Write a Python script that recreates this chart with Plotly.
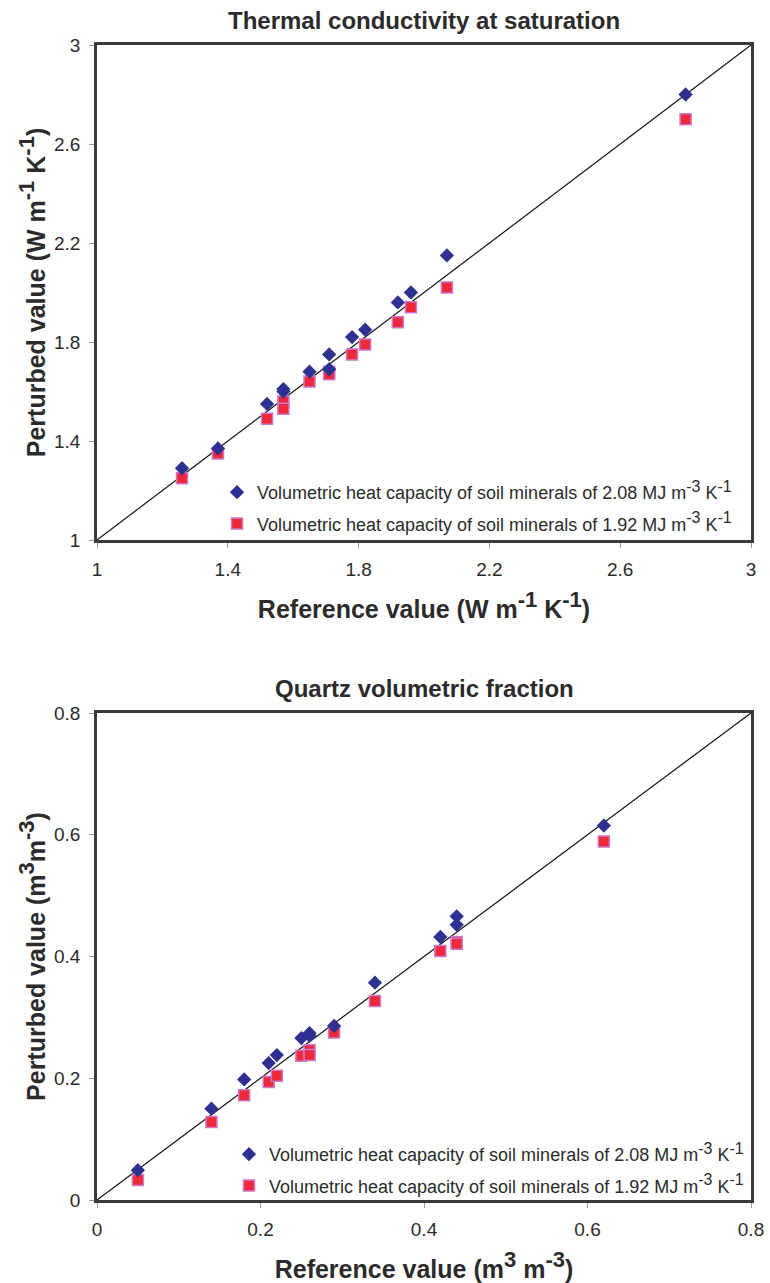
import plotly.graph_objects as go

# ---------- Data: Thermal conductivity at saturation ----------
tc_ref = [1.26, 1.37, 1.52, 1.57, 1.57, 1.65, 1.71, 1.71, 1.78, 1.82, 1.92, 1.96, 2.07, 2.80]
tc_hi = [1.29, 1.37, 1.55, 1.61, 1.60, 1.68, 1.75, 1.69, 1.82, 1.85, 1.96, 2.00, 2.15, 2.80]
tc_lo = [1.25, 1.35, 1.49, 1.56, 1.53, 1.64, 1.68, 1.67, 1.75, 1.79, 1.88, 1.94, 2.02, 2.70]
tc_line = [1, 3]

# ---------- Data: Quartz volumetric fraction ----------
q_ref = [0.05, 0.14, 0.18, 0.21, 0.22, 0.25, 0.26, 0.26, 0.29, 0.34, 0.42, 0.44, 0.44, 0.62]
q_hi = [0.049, 0.150, 0.198, 0.225, 0.238, 0.266, 0.274, 0.270, 0.286, 0.357, 0.432, 0.466, 0.452, 0.615]
q_lo = [0.033, 0.128, 0.172, 0.194, 0.204, 0.237, 0.246, 0.238, 0.275, 0.327, 0.409, 0.424, 0.421, 0.589]
q_line = [0, 0.8]

tc_ticks = [1, 1.4, 1.8, 2.2, 2.6, 3]
q_ticks = [0, 0.2, 0.4, 0.6, 0.8]


def sup(t, px):
    return f"<sup><span style='font-size:{px}px'>{t}</span></sup>"


name_hi = f"Volumetric heat capacity of soil minerals of 2.08 MJ m{sup('-3', 16)} K{sup('-1', 16)}"
name_lo = f"Volumetric heat capacity of soil minerals of 1.92 MJ m{sup('-3', 16)} K{sup('-1', 16)}"

BLUE = "#2e3192"
RED = "#ee2a3a"
RED_EDGE = "#cc77cc"
FONT = "Liberation Sans, Arial, sans-serif"
TXT = "#2b2b2b"

fig = go.Figure()


def add_panel(xref, hi, lo, line, xa, ya, legend):
    fig.add_trace(go.Scatter(x=line, y=line, mode="lines", line=dict(color="#111", width=1.2),
                             showlegend=False, xaxis=xa, yaxis=ya, hoverinfo="skip"))
    fig.add_trace(go.Scatter(x=xref, y=lo, mode="markers", name=name_lo,
                             legendgroup=legend + "lo",
                             marker=dict(symbol="square", size=11, color=RED,
                                         line=dict(color=RED_EDGE, width=1.5)),
                             xaxis=xa, yaxis=ya, legend=legend, legendrank=2))
    fig.add_trace(go.Scatter(x=xref, y=hi, mode="markers", name=name_hi,
                             legendgroup=legend + "hi",
                             marker=dict(symbol="diamond", size=11, color=BLUE,
                                         line=dict(width=0)),
                             xaxis=xa, yaxis=ya, legend=legend, legendrank=1))


add_panel(tc_ref, tc_hi, tc_lo, tc_line, "x", "y", "legend")
add_panel(q_ref, q_hi, q_lo, q_line, "x2", "y2", "legend2")

axis_common = dict(showline=True, mirror=True, linewidth=2.5, linecolor="#3a3a3a",
                   showgrid=False, zeroline=False, ticks="outside", ticklen=5,
                   tickwidth=1, tickcolor="#999", ticklabelstandoff=5, automargin=False,
                   tickfont=dict(family=FONT, size=19, color=TXT))
title_font = dict(family=FONT, size=25, color=TXT)

L, R, T, B = 97, 19, 45, 83
W, H = 770, 1283
ph = H - T - B


def yd(top_px, bot_px):
    return [(H - B - bot_px) / ph, (H - B - top_px) / ph]


leg_common = dict(xanchor="left", yanchor="top", bgcolor="rgba(0,0,0,0)", itemwidth=30,
                  tracegroupgap=5, font=dict(family=FONT, size=18, color=TXT))

fig.update_layout(
    width=W, height=H,
    margin=dict(l=L, r=R, t=T, b=B, autoexpand=False),
    paper_bgcolor="white", plot_bgcolor="white",
    font=dict(family=FONT, color=TXT),
    xaxis=dict(range=[1, 3], tickvals=tc_ticks, ticktext=[str(v) for v in tc_ticks],
               domain=[0, 1], anchor="y",
               title=dict(text=f"<b>Reference value (W m{sup('-1', 22)} K{sup('-1', 22)})</b>",
                          font=title_font, standoff=22), **axis_common),
    yaxis=dict(range=[1, 3], tickvals=tc_ticks, ticktext=[str(v) for v in tc_ticks],
               domain=yd(45, 540), anchor="x",
               title=dict(text=f"<b>Perturbed value (W m{sup('-1', 22)} K{sup('-1', 22)})</b>",
                          font=title_font, standoff=2), **axis_common),
    xaxis2=dict(range=[0, 0.8], tickvals=q_ticks, ticktext=[str(v) for v in q_ticks],
                domain=[0, 1], anchor="y2",
                title=dict(text=f"<b>Reference value (m{sup('3', 22)} m{sup('-3', 22)})</b>",
                           font=title_font, standoff=26), **axis_common),
    yaxis2=dict(range=[0, 0.8], tickvals=q_ticks, ticktext=[str(v) for v in q_ticks],
                domain=yd(713, 1200), anchor="x2",
                title=dict(text=f"<b>Perturbed value (m{sup('3', 22)}m{sup('-3', 22)})</b>",
                           font=title_font, standoff=2), **axis_common),
    legend=dict(x=(217 - L) / (W - L - R), y=(H - B - 474) / ph, **leg_common),
    legend2=dict(x=(229 - L) / (W - L - R), y=(H - B - 1136) / ph, **leg_common),
    annotations=[
        dict(text="<b>Thermal conductivity at saturation</b>", xref="paper", yref="paper",
             x=0.5, y=(H - B - 21) / ph, xanchor="center", yanchor="middle",
             showarrow=False, font=dict(family=FONT, size=24, color=TXT)),
        dict(text="<b>Quartz volumetric fraction</b>", xref="paper", yref="paper",
             x=0.5, y=(H - B - 688) / ph, xanchor="center", yanchor="middle",
             showarrow=False, font=dict(family=FONT, size=24, color=TXT)),
    ],
)

fig.write_html("out.html")
